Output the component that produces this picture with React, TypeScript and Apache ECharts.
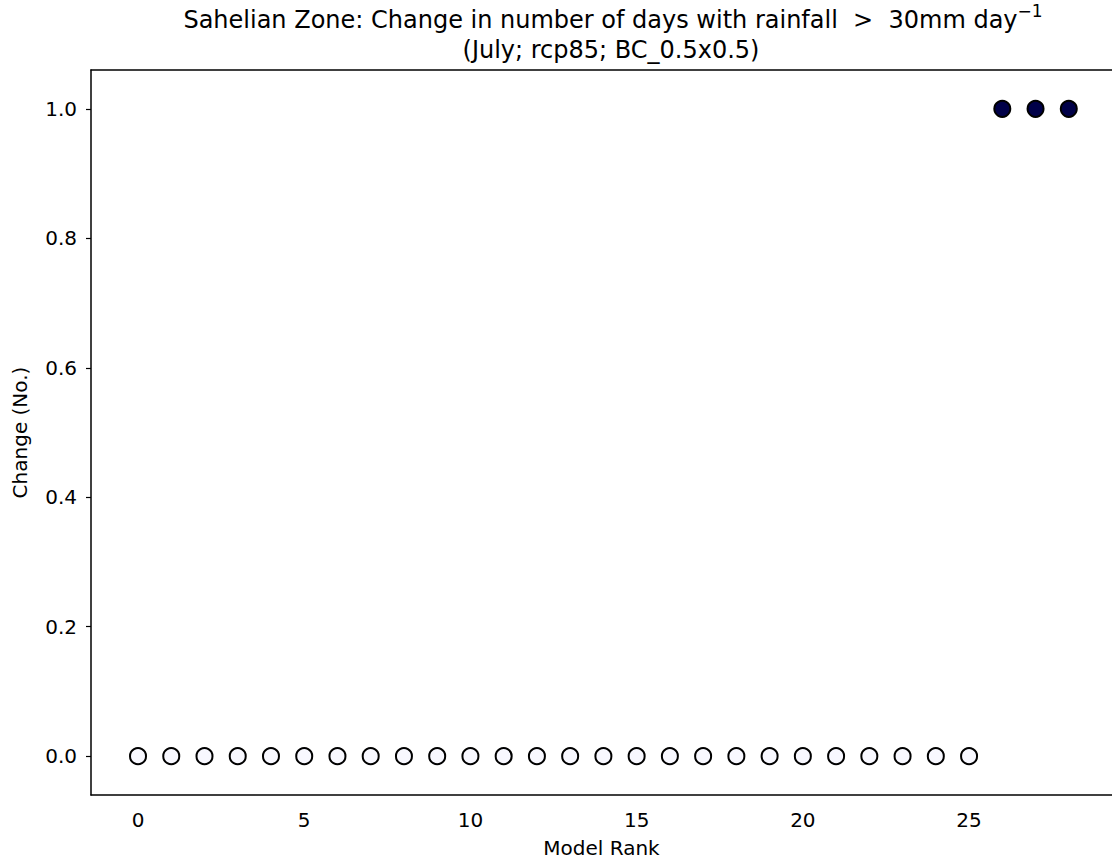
import React, { useEffect, useRef } from "react";
import * as echarts from "echarts";

const ranks: number[] = [0,1,2,3,4,5,6,7,8,9,10,11,12,13,14,15,16,17,18,19,20,21,22,23,24,25,26,27,28];
const changes: number[] = [0,0,0,0,0,0,0,0,0,0,0,0,0,0,0,0,0,0,0,0,0,0,0,0,0,0,1,1,1];
const xTicks: number[] = [0, 5, 10, 15, 20, 25];
const yTicks: number[] = [0, 0.2, 0.4, 0.6, 0.8, 1.0];
const titleLine1 = "Sahelian Zone: Change in number of days with rainfall  >  30mm day";
const titleSup = "−1";
const titleLine2 = "(July; rcp85; BC_0.5x0.5)";

const FONT = "DejaVu Sans";

export default function App() {
  const ref = useRef<HTMLDivElement>(null);
  useEffect(() => {
    document.body.style.margin = "0";
    const chart = echarts.init(ref.current!, null, { renderer: "svg" });
    const data = ranks.map((r, i) => [r, changes[i]]);
    chart.setOption({
      animation: false,
      backgroundColor: "#ffffff",
      textStyle: { fontFamily: FONT },
      title: [
        {
          text: `{a|${titleLine1}}{s|${titleSup}}`,
          left: 608,
          top: -3,
          textAlign: "center",
          textStyle: {
            rich: {
              a: { fontFamily: FONT, fontSize: 24, color: "#000", fontWeight: "normal", lineHeight: 30, verticalAlign: "bottom" },
              s: { fontFamily: FONT, fontSize: 17, color: "#000", fontWeight: "normal", lineHeight: 30, verticalAlign: "top", padding: [0, 0, 12, 0] },
            },
          },
        },
        {
          text: titleLine2,
          left: 606,
          top: 33,
          textAlign: "center",
          textStyle: { fontFamily: FONT, fontSize: 24, color: "#000", fontWeight: "normal" },
        },
      ],
      grid: { left: 91, right: 0, top: 70, bottom: 68, containLabel: false },
      xAxis: [
        {
          type: "value",
          min: -1.414,
          max: 29.3,
          name: "Model Rank",
          nameLocation: "middle",
          nameGap: 43,
          nameTextStyle: { fontFamily: FONT, fontSize: 20, color: "#000", verticalAlign: "top" },
          axisLine: { show: true, onZero: false, lineStyle: { color: "#000", width: 1.5 } },
          axisTick: { show: false },
          splitLine: { show: false },
          axisLabel: {
            customValues: xTicks,
            margin: 15,
            fontFamily: FONT,
            fontSize: 20,
            color: "#000",
            showMinLabel: true,
            showMaxLabel: true,
          },
        },
        {
          type: "value",
          position: "top",
          min: -1.414,
          max: 29.3,
          axisLine: { show: true, onZero: false, lineStyle: { color: "#000", width: 1.5 } },
          axisTick: { show: false },
          axisLabel: { show: false },
          splitLine: { show: false },
        },
      ],
      yAxis: {
        type: "value",
        min: -0.06,
        max: 1.06,
        name: "Change (No.)",
        nameLocation: "middle",
        nameGap: 61,
        nameTextStyle: { fontFamily: FONT, fontSize: 20, color: "#000" },
        axisLine: { show: true, onZero: false, lineStyle: { color: "#000", width: 1.5 } },
        axisTick: { show: true, customValues: yTicks, length: 5, lineStyle: { color: "#000", width: 1.2 } },
        splitLine: { show: false },
        axisLabel: {
          customValues: yTicks,
          margin: 14,
          fontFamily: FONT,
          fontSize: 20,
          color: "#000",
          formatter: (v: number) => v.toFixed(1),
        },
      },
      series: [
        {
          type: "scatter",
          xAxisIndex: 0,
          data,
          symbol: "circle",
          symbolSize: 16,
          itemStyle: {
            color: (p: any) => (p.value[1] > 0 ? "#000048" : "#f8f8ff"),
            borderColor: "#000",
            borderWidth: 2,
            opacity: 1,
          },
          emphasis: { disabled: true },
        },
      ],
    });
    return () => chart.dispose();
  }, []);
  return <div ref={ref} style={{ width: 1112, height: 863 }} />;
}
